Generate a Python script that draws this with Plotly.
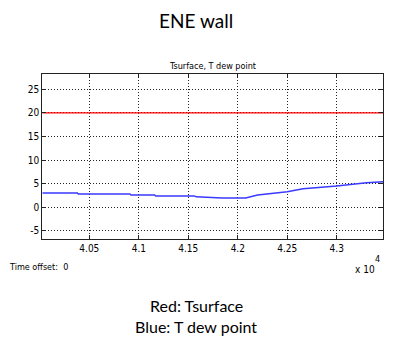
import plotly.graph_objects as go

# Data (time in seconds)
time = [40025, 40380, 40390, 40910, 40920, 41160, 41170, 41560, 41580, 41840,
        42080, 42200, 42500, 42660, 43000, 43300, 43470]
t_dew = [3.0, 3.0, 2.8, 2.8, 2.6, 2.6, 2.4, 2.4, 2.2, 1.95,
         1.95, 2.6, 3.3, 3.9, 4.5, 5.2, 5.4]
t_surface = [20.0] * len(time)

x_tickvals = [40500, 41000, 41500, 42000, 42500, 43000]
x_ticktext = ["4.05", "4.1", "4.15", "4.2", "4.25", "4.3"]
y_tickvals = [-5, 0, 5, 10, 15, 20, 25]
y_ticktext = ["-5", "0", "5", "10", "15", "20", "25"]

W, H = 393, 347
L, R, T, B = 42.3, 383.3, 74.3, 239.3

narrow = "Liberation Sans Narrow, DejaVu Sans Condensed, Arial Narrow, sans-serif"
calibri = "Lato, Carlito, Calibri, sans-serif"

fig = go.Figure()
fig.add_trace(go.Scatter(x=time, y=t_surface, mode="lines",
                         line=dict(color="#ff0000", width=1.3), showlegend=False))
fig.add_trace(go.Scatter(x=time, y=t_dew, mode="lines",
                         line=dict(color="#3a3aff", width=1.5), showlegend=False))

axis_common = dict(showline=True, linecolor="#222", linewidth=1, mirror="ticks",
                   ticks="inside", ticklen=4, tickcolor="#222",
                   showgrid=True, gridcolor="#222", griddash="1px,2px", gridwidth=1,
                   zeroline=False, tickfont=dict(family=narrow, size=10, color="#000"))


def note(text, x, y, size, family, xanchor="center"):
    return dict(text=text, x=x / W, y=1 - y / H, xref="paper", yref="paper",
                xanchor=xanchor, yanchor="middle", showarrow=False,
                font=dict(family=family, size=size, color="#000"))


fig.update_layout(
    width=W, height=H,
    margin=dict(l=0, r=0, t=0, b=0),
    paper_bgcolor="white", plot_bgcolor="white",
    xaxis=dict(domain=[L / W, R / W], range=[40025, 43470],
               tickvals=x_tickvals, ticktext=x_ticktext, **axis_common),
    yaxis=dict(domain=[(H - B) / H, (H - T) / H], range=[-6.8, 28.2],
               tickvals=y_tickvals, ticktext=y_ticktext, **axis_common),
    annotations=[
        note("ENE wall", 196, 20, 19, calibri),
        note("Tsurface, T dew point", (L + R) / 2, 66, 9, narrow),
        note("Time offset:  0", 7, 267, 9, narrow, "left"),
        note("x 10", 377, 269, 10, narrow, "right"),
        note("4", 382, 259, 9, narrow, "right"),
        note("Red: Tsurface", 196, 305, 16, calibri),
        note("Blue: T dew point", 196, 326, 16, calibri),
    ],
)

fig.write_html("out.html", config={"displayModeBar": False},
               post_script="document.body.style.margin='0';")
